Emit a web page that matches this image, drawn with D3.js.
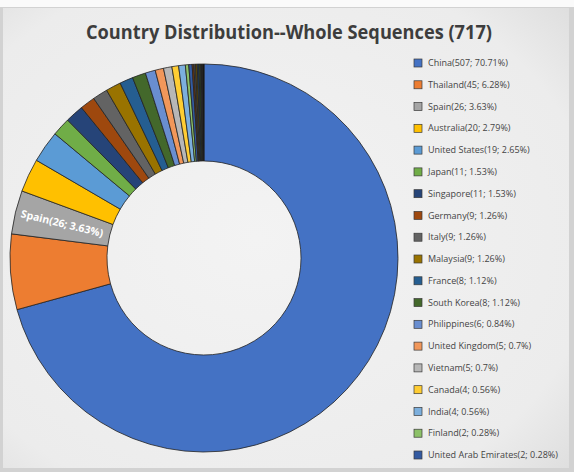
<!DOCTYPE html>
<html>
<head>
<meta charset="utf-8">
<script src="https://cdn.jsdelivr.net/npm/d3@7"></script>
<style>
  body { margin: 0; background: #e6e6e6; }
  svg { display: block; }
</style>
</head>
<body>
<svg id="chart" width="574" height="472"></svg>
<script>
// values
var countries = ["China", "Thailand", "Spain", "Australia", "United States", "Japan",
  "Singapore", "Germany", "Italy", "Malaysia", "France", "South Korea", "Philippines",
  "United Kingdom", "Vietnam", "Canada", "India", "Finland", "United Arab Emirates"];
var counts = [507, 45, 26, 20, 19, 11, 11, 9, 9, 9, 8, 8, 6, 5, 5, 4, 4, 2, 2];
// 717 total, legend only lists 710 -> the thin slices before 12 o'clock are not in the legend
var unlisted = [1, 1, 1, 1, 1, 1, 1];
var total = 717;
var title = "Country Distribution--Whole Sequences (717)";

var colors = ["#4472c4", "#ed7d31", "#a5a5a5", "#ffc000", "#5b9bd5", "#70ad47",
  "#264478", "#9e480e", "#636363", "#997300", "#255e91", "#43682b", "#698ed0",
  "#f1975a", "#b7b7b7", "#ffcd33", "#7cafdd", "#8cc168", "#335aa1",
  "#7a3a0c", "#4a4a4a", "#6b5200", "#1d3f66", "#2f4a1e", "#222222", "#111111"];

var svg = d3.select("#chart");

// photo-ish frame / background
var defs = svg.append("defs");
var grad = defs.append("radialGradient").attr("id", "bg")
  .attr("cx", "45%").attr("cy", "50%").attr("r", "75%");
grad.append("stop").attr("offset", "0%").attr("stop-color", "#f3f3f3");
grad.append("stop").attr("offset", "80%").attr("stop-color", "#ececec");
grad.append("stop").attr("offset", "100%").attr("stop-color", "#dedede");

svg.append("rect").attr("width", 574).attr("height", 472).attr("fill", "#d2d2d2");
svg.append("rect").attr("width", 574).attr("height", 7).attr("fill", "#fafafa");
svg.append("rect").attr("x", 3).attr("y", 8).attr("width", 566).attr("height", 460)
  .attr("fill", "url(#bg)");

svg.append("text")
  .attr("x", 289).attr("y", 39)
  .attr("text-anchor", "middle")
  .attr("font-family", "'Open Sans', sans-serif")
  .attr("font-weight", "bold")
  .attr("font-size", 20)
  .attr("fill", "#3d3d3d")
  .attr("textLength", 406)
  .attr("lengthAdjust", "spacingAndGlyphs")
  .text(title);

var data = countries.map(function(c, i) { return { name: c, v: counts[i], listed: true }; })
  .concat(unlisted.map(function(v, i) { return { name: "", v: v, listed: false }; }));

var pie = d3.pie().sort(null).value(function(d) { return d.v; });
var arc = d3.arc().innerRadius(97).outerRadius(194);

var g = svg.append("g").attr("transform", "translate(204,258)");

g.selectAll("path")
  .data(pie(data))
  .enter()
  .append("path")
  .attr("d", arc)
  .attr("fill", function(d, i) { return colors[i % colors.length]; })
  .attr("stroke", "#222")
  .attr("stroke-width", 0.8);

function pct(v) { return +(v / total * 100).toFixed(2) + "%"; }

// data label on the Spain slice
var arcs = pie(data);
var sp = arcs[2];
var mid = (sp.startAngle + sp.endAngle) / 2;
var lp = d3.arc().innerRadius(146).outerRadius(146).centroid(sp);
g.append("text")
  .attr("transform", "translate(" + lp[0] + "," + lp[1] + ") rotate(" + (mid * 180 / Math.PI - 270) + ")")
  .attr("text-anchor", "middle")
  .attr("dy", "0.35em")
  .attr("font-family", "'Open Sans', sans-serif")
  .attr("font-weight", "bold")
  .attr("font-size", 10.5)
  .attr("fill", "#ffffff")
  .text(countries[2] + "(" + counts[2] + "; " + pct(counts[2]) + ")");

// legend
var ly = d3.scalePoint().domain(countries).range([63, 455]);
var leg = svg.append("g").selectAll("g")
  .data(countries)
  .enter()
  .append("g")
  .attr("transform", function(d) { return "translate(414," + ly(d) + ")"; });

leg.append("rect")
  .attr("x", 0).attr("y", -4)
  .attr("width", 8).attr("height", 8)
  .attr("fill", function(d, i) { return colors[i]; })
  .attr("stroke", "#3a3a3a")
  .attr("stroke-width", 0.7);

leg.append("text")
  .attr("x", 14).attr("dy", "0.35em")
  .attr("font-family", "'Open Sans', sans-serif")
  .attr("font-size", 9)
  .attr("fill", "#444")
  .text(function(d, i) { return d + "(" + counts[i] + "; " + pct(counts[i]) + ")"; });
</script>
</body>
</html>
